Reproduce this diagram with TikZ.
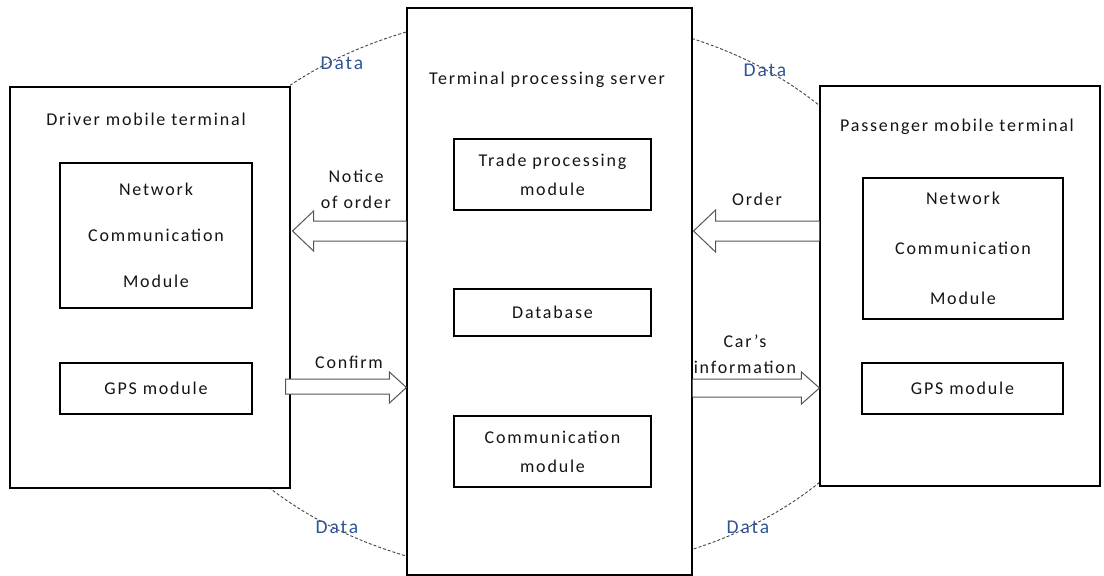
\documentclass[tikz,border=0pt]{standalone}
\usepackage{fontspec}
\setmainfont{Carlito}[LetterSpace=10]
\usetikzlibrary{calc}
\definecolor{datablue}{HTML}{2F5496}
\definecolor{arrgray}{HTML}{555555}
\definecolor{dashgray}{HTML}{444444}
\definecolor{txt}{HTML}{151515}
\begin{document}
\begin{tikzpicture}[x=1pt,y=-1pt,
  every node/.style={text=txt},
  bigbox/.style={draw=black, line width=1.1pt, fill=white, inner sep=0pt},
  modbox/.style={draw=black, line width=1.1pt, fill=white, inner sep=0pt, align=center,
    font=\fontsize{18}{29}\selectfont},
  lbl/.style={inner sep=0pt, align=center, font=\fontsize{18}{26}\selectfont},
  title/.style={inner sep=0pt, font=\fontsize{18}{20}\selectfont},
  datalbl/.style={inner sep=0pt, text=datablue, font=\fontsize{19.5}{22}\selectfont},
  blockarrow/.style={draw=arrgray, line width=1pt, fill=white, line join=miter},
  datacurve/.style={draw=dashgray, dash pattern=on 3pt off 2pt, line width=0.9pt}]
\useasboundingbox (0,0) rectangle (1104,576);
% dashed data ring
\coordinate (ringtopL) at (549,12);
\coordinate (ringtopR) at (549,17);
\draw[datacurve] (ringtopL) arc[start angle=90, end angle=270, x radius=385pt, y radius=282pt];
\draw[datacurve] (ringtopR) arc[start angle=90, end angle=-90, x radius=369pt, y radius=277pt];
% main boxes
\node[bigbox, minimum width=280pt, minimum height=401pt] (drv) at (150,287.5) {};
\node[bigbox, minimum width=285pt, minimum height=567pt] (srv) at (549.5,291.5) {};
\node[bigbox, minimum width=280pt, minimum height=400pt] (psg) at (960,286) {};
% titles
\node[title] (drvt) at (146,119) {Driver mobile terminal};
\node[title] (srvt) at (547,80) {Terminal processing server};
\node[title] (psgt) at (957,127) {Passenger mobile terminal};
% modules
\node[modbox, minimum width=192pt, minimum height=145pt] (dncm) at (156,235.5) {Network\\[17pt]Communication\\[17pt]Module};
\node[modbox, minimum width=192pt, minimum height=51pt] (dgps) at (156,388.5) {GPS module};
\node[modbox, minimum width=197pt, minimum height=71pt] (trade) at (552.5,174.5) {Trade processing\\module};
\node[modbox, minimum width=197pt, minimum height=47pt] (db) at (552.5,312.5) {Database};
\node[modbox, minimum width=197pt, minimum height=71pt] (comm) at (552.5,451.5) {Communication\\module};
\node[modbox, minimum width=200pt, minimum height=141pt] (pncm) at (963,248.5) {Network\\[21pt]Communication\\[21pt]Module};
\node[modbox, minimum width=201pt, minimum height=51pt] (pgps) at (962.5,388.5) {GPS module};
% block arrows
\draw[blockarrow] let \p1=(srv.west), \p2=(drv.east) in
  (\x1,-221pt) -- (\x2+23pt,-221pt) -- (\x2+23pt,-211pt) -- (\x2+2pt,-231pt)
  -- (\x2+23pt,-251pt) -- (\x2+23pt,-241pt) -- (\x1,-241pt);
\draw[blockarrow] let \p1=(psg.west), \p2=(srv.east) in
  (\x1,-221pt) -- (\x2+23pt,-221pt) -- (\x2+23pt,-210pt) -- (\x2+1pt,-231pt)
  -- (\x2+23pt,-252pt) -- (\x2+23pt,-241pt) -- (\x1,-241pt);
\draw[blockarrow] let \p1=(drv.east), \p2=(srv.west) in
  (\x1-5pt,-379pt) -- (\x2-17pt,-379pt) -- (\x2-17pt,-372pt) -- (\x2,-387.5pt)
  -- (\x2-17pt,-403pt) -- (\x2-17pt,-394pt) -- (\x1-5pt,-394pt) -- cycle;
\draw[blockarrow] let \p1=(srv.east), \p2=(psg.west) in
  (\x1,-379pt) -- (\x2-18pt,-379pt) -- (\x2-18pt,-372pt) -- (\x2,-388pt)
  -- (\x2-18pt,-404pt) -- (\x2-18pt,-397pt) -- (\x1,-397pt);
% arrow labels
\node[lbl] (notice) at (356,189) {Notice\\of order};
\node[lbl] (confirm) at (349,362) {Confirm};
\node[lbl] (order) at (757,199) {Order};
\node[lbl] (cars) at (745,354) {Car’s\\information};
% data labels
\node[datalbl] (d1) at (342,63) {Data};
\node[datalbl] (d2) at (765,70) {Data};
\node[datalbl] (d3) at (337,527) {Data};
\node[datalbl] (d4) at (748,527) {Data};
\end{tikzpicture}
\end{document}
